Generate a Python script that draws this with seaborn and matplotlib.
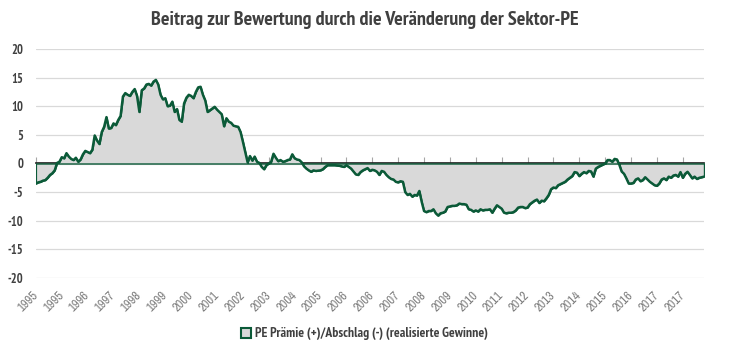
import numpy as np
import pandas as pd
import matplotlib
matplotlib.use("Agg")
import matplotlib.pyplot as plt
import seaborn as sns
from matplotlib.patches import Patch
from matplotlib import font_manager as fm

# ---------------- data ----------------
months = pd.date_range("1995-01-01", periods=285, freq="MS")

pe_premium = [
    -3.5, -3.3, -3.2, -3.0, -2.9, -2.5, -2.0, -1.7, -1.2, 0.1, 0.3, 1.1,
    0.9, 1.8, 1.2, 0.8, 0.6, 1.0, 0.3, 0.7, 1.6, 2.2, 2.0,
    1.8, 2.4, 4.9, 4.0, 3.4, 5.5, 6.4, 8.1, 6.1, 6.2, 7.0, 6.7, 7.6, 8.3,
    11.7, 12.3, 12.0, 11.8, 12.5, 13.0, 11.8, 9.0, 12.8, 13.1, 13.8, 13.9,
    13.6, 14.3, 14.6, 13.8, 12.0, 11.2, 11.4, 10.0, 10.1, 10.8, 9.0, 9.5,
    7.6, 7.3, 10.5, 11.5, 12.0, 11.8, 11.4, 12.5, 13.3, 13.4, 12.0, 11.0, 9.0, 9.3,
    9.6, 9.9, 9.4, 9.0, 8.6, 6.5, 7.9, 7.3, 7.1, 6.6, 6.5, 6.4, 5.5, 3.8,
    2.0, 0.2, 1.3, 0.5, 1.2, 0.3, 0.1, -0.6, -1.0, -0.3, 0.0,
    0.3, 1.7, 1.0, 0.4, 0.6, 0.3, 0.4, 0.6, 0.7, 1.6, 0.9, 0.7, 0.6, 0.2,
    -0.5, -0.9, -1.2, -1.45, -1.2, -1.3, -1.25, -1.2, -1.0, -0.6, -0.3, -0.3,
    -0.3, -0.3, -0.35, -0.4, -0.5, -0.6, -0.3, -0.6, -0.9, -1.4, -1.9, -2.0,
    -1.5, -1.2, -1.0, -0.8, -1.3, -1.1, -1.2, -1.45, -2.0, -1.3, -1.45, -2.0, -2.4,
    -2.7, -2.8, -3.2, -3.3, -3.1, -3.2, -5.0, -5.5, -5.3, -5.8, -5.5, -5.6,
    -4.8, -6.7, -8.3, -8.5, -8.3, -8.3, -8.0, -8.7, -9.1, -8.7, -8.6, -8.4, -7.6, -7.5,
    -7.4, -7.4, -7.3, -7.0, -7.1, -7.1, -7.2, -8.0, -8.1, -8.4, -8.2, -8.4,
    -8.0, -8.2, -8.1, -8.1, -8.0, -8.6, -7.9, -7.3, -7.6, -7.9, -8.6, -8.7, -8.6,
    -8.6, -8.5, -8.2, -7.7, -7.6, -7.6, -7.8, -7.7, -7.1, -6.8, -6.5, -6.3,
    -6.9, -6.5, -6.6, -6.1, -5.5, -4.5, -4.2, -4.3, -3.8, -3.6, -3.4, -3.2, -2.8, -2.5,
    -2.2, -1.5, -1.6, -2.2, -1.8, -1.5, -1.7, -1.3, -1.4, -2.3, -0.9, -0.6,
    -0.4, -0.2, 0.0, 0.6, 0.6, 0.3, 0.8, 0.7, -0.2, -1.4, -1.8, -2.6, -3.5, -3.5,
    -3.4, -2.8, -2.6, -3.1, -2.9, -2.4, -2.8, -3.2, -3.5, -3.8, -3.9, -3.5,
    -2.8, -2.6, -2.9, -2.3, -2.5, -2.1, -2.0, -2.3, -1.5, -2.5, -1.8, -1.45, -2.0,
    -2.6, -2.3, -2.7, -2.5, -2.4, -2.3,
]

tick_labels = ["1995", "1995", "1996", "1997", "1998", "1999", "2000", "2001",
               "2002", "2003", "2004", "2005", "2006", "2006", "2007", "2008",
               "2009", "2010", "2011", "2012", "2013", "2014", "2015", "2016",
               "2017", "2017"]
tick_step = 11
y_ticks = [-20, -15, -10, -5, 0, 5, 10, 15, 20]

title = "Beitrag zur Bewertung durch die Veränderung der Sektor-PE"
legend_label = "PE Prämie (+)/Abschlag (-) (realisierte Gewinne)"

# ---------------- style ----------------
GREEN = "#0b5a38"
FILL = "#d9d9d9"
GRID = "#d9d9d9"
TXT = "#404040"

sns.set_theme(style="white")

# look for a condensed / narrow font file
def find_font(bold):
    cands = []
    for f in fm.fontManager.ttflist:
        fn = f.fname.lower()
        if ("narrow" in fn or "condensed" in fn) and f.style == "normal":
            isbold = (f.weight in ("bold", 700) or
                      (isinstance(f.weight, int) and f.weight >= 600))
            if isbold == bold:
                pri = 0 if "narrow" in fn else 1
                cands.append((pri, f.fname))
    cands.sort()
    return cands[0][1] if cands else None

bold_file = find_font(True)
reg_file = find_font(False)

def fp(size, bold=True):
    f = bold_file if bold else reg_file
    if f:
        return fm.FontProperties(fname=f, size=size)
    return fm.FontProperties(family="DejaVu Sans", size=size * 0.85,
                             weight="bold" if bold else "normal")

plt.rcParams["font.family"] = ["DejaVu Sans"]

df = pd.DataFrame({"idx": np.arange(len(pe_premium)), "month": months,
                   "value": pe_premium})
tick_pos = df["idx"].to_numpy()[::tick_step][:len(tick_labels)]

W, H = 729, 353
fig = plt.figure(figsize=(W / 100, H / 100), dpi=100)
left_px, right_px, top_px, bot_px = 35.9, 704, 49, 278
ax = fig.add_axes([left_px / W, 1 - bot_px / H, (right_px - left_px) / W,
                   (bot_px - top_px) / H])

ax.fill_between(df["idx"], df["value"], 0, facecolor=FILL, edgecolor=GREEN,
                linewidth=1.0, zorder=2)
sns.lineplot(data=df, x="idx", y="value", color=GREEN, linewidth=1.8,
             ax=ax, zorder=3)

ax.set_xlim(df["idx"].min(), df["idx"].max())
ax.set_ylim(-20, 20)
ax.set_yticks(y_ticks)
ax.set_yticklabels([str(v) for v in y_ticks], fontproperties=fp(9, True),
                   color=TXT)
ax.yaxis.grid(True, color=GRID, linewidth=0.9, zorder=0)
ax.xaxis.grid(False)
ax.set_axisbelow(True)
for s in ax.spines.values():
    s.set_visible(False)
ax.tick_params(axis="y", length=0, pad=9)

ax.set_xticks(tick_pos)
ax.set_xticklabels(tick_labels, rotation=45, ha="right", va="center",
                   rotation_mode="anchor", fontproperties=fp(9, False),
                   color="#7f7f7f")
ax.tick_params(axis="x", length=0, pad=11)
ax.set_xlabel("")
ax.set_ylabel("")

# small tick marks on the zero line
sec = ax.secondary_xaxis(0.5)
sec.set_xticks(tick_pos)
sec.set_xticklabels([""] * len(tick_pos))
sec.tick_params(axis="x", direction="out", length=4, width=0.8, color="#a6a6a6")
sec.spines["bottom"].set_visible(False)

fig.text(0.5, 1 - 20 / H, title, ha="center", va="center",
         fontproperties=fp(14.5, True), color=TXT)

handle = Patch(facecolor=FILL, edgecolor=GREEN, linewidth=1.5, label=legend_label)
leg = fig.legend(handles=[handle], loc="center", bbox_to_anchor=(0.5, 1 - 334 / H),
                 frameon=False, prop=fp(9.8, True), handlelength=0.7,
                 handleheight=0.7, handletextpad=0.3)
for t in leg.get_texts():
    t.set_color(TXT)

fig.savefig("out.png", dpi=100, facecolor="white")
